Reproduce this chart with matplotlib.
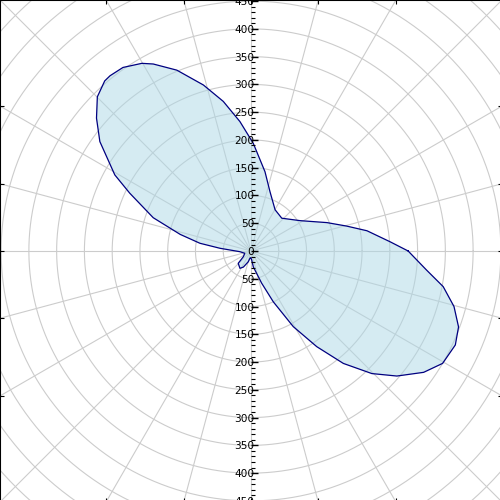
import numpy as np
import matplotlib
matplotlib.use('Agg')
import matplotlib.pyplot as plt
from matplotlib.ticker import MultipleLocator, FuncFormatter

# polar curve: angle (deg, ccw from east) and radius
theta_deg = [0, 3.8, 9.9, 14.6, 20.5, 31.7, 46.8, 59.7, 72.2, 80, 88.8, 94.9,
             100.5, 106, 112.3, 117.6, 120.2, 124.9, 128.8, 130.7, 134.9, 139.3,
             144.1, 150.8, 154.5, 161.2, 166.8, 171.4, 175, 183.6, 200, 216.5,
             224, 237.5, 244.7, 255.8, 262, 268, 274.4, 278.3, 285.9, 288.3,
             293.7, 299.2, 304.5, 309.4, 314.6, 319.4, 324.9, 329.6, 335.3,
             339.9, 344.7, 349.5, 353.8]
radius = [283, 251, 212, 178, 146, 104, 81, 86, 112, 145, 194, 234,
          274, 311, 352, 380, 391, 403, 405, 404, 392, 367,
          336, 281, 242, 186, 131, 93, 56, 20, 12, 17,
          32, 37, 32, 20, 13, 12, 16, 29, 48, 61,
          100, 156, 209, 262, 310, 346, 380, 400, 405,
          398, 379, 352, 318]

ring_radii = np.arange(50, 700, 50)     # grid circles
spoke_angles = np.arange(0, 360, 15)    # grid spokes (deg)
lim = 452                               # half width of the view

fig = plt.figure(figsize=(5, 5), dpi=100)
ax = fig.add_axes([0, -0.004, 1.004, 1.004])
ax.set_xlim(-lim, lim)
ax.set_ylim(-lim, lim)

# grid
t = np.linspace(0, 2*np.pi, 400)
for rr in ring_radii:
    ax.plot(rr*np.cos(t), rr*np.sin(t), color='#cccccc', lw=0.8, zorder=1)
for a in np.radians(spoke_angles):
    ax.plot([0, 700*np.cos(a)], [0, 700*np.sin(a)], color='#cccccc', lw=0.8, zorder=1)

# the curve
th = np.radians(theta_deg + [theta_deg[0]])
rv = np.array(radius + [radius[0]])
xs = rv*np.cos(th)
ys = rv*np.sin(th)
ax.fill(xs, ys, color='lightblue', alpha=0.5, lw=0, zorder=2)
ax.plot(xs, ys, color='navy', lw=0.9, zorder=3)

# frame ticks where the spokes meet the border
edge = [lim*np.tan(np.radians(a)) for a in (-30, -15, 0, 15, 30)]
ax.set_xticks(edge)
ax.set_yticks(edge)
ax.tick_params(direction='in', length=3, width=0.8, top=True, right=True,
               labelbottom=False, labelleft=False)
for s in ax.spines.values():
    s.set_linewidth(1.5)

# vertical axis through the centre
ax2 = fig.add_axes(ax.get_position(), frameon=False)
ax2.set_xlim(-lim, lim)
ax2.set_ylim(-lim, lim)
ax2.set_xticks([])
ax2.spines['left'].set_visible(True)
ax2.spines['left'].set_position(('data', 0))
ax2.spines['left'].set_linewidth(1.0)
ax2.yaxis.set_major_locator(MultipleLocator(50))
ax2.yaxis.set_minor_locator(MultipleLocator(10))
ax2.yaxis.set_major_formatter(FuncFormatter(lambda v, p: '%d' % abs(round(v))))
ax2.tick_params(axis='y', which='major', direction='in', length=5, width=1.0,
                labelsize=7.6, pad=-2.5)
ax2.tick_params(axis='y', which='minor', direction='in', length=3, width=0.8)
ax2.patch.set_visible(False)

plt.savefig('out.png', dpi=100)
